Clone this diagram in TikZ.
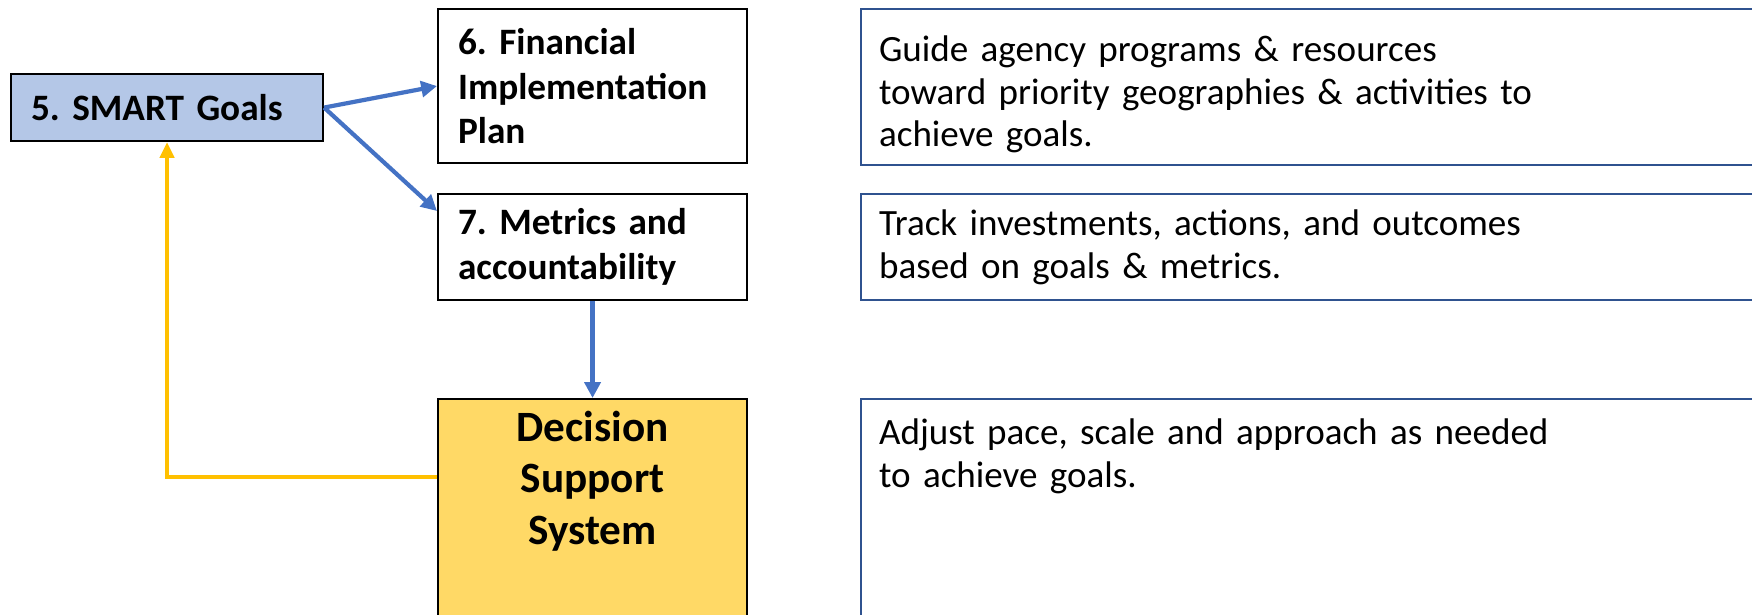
\documentclass[tikz,border=0pt]{standalone}
\usepackage{fontspec}
\setmainfont{Carlito}
\usepackage{xcolor}
\usepackage{tikz}
\usetikzlibrary{positioning, arrows.meta}
\definecolor{smartblue}{HTML}{B4C7E7}
\definecolor{dssgold}{HTML}{FFD966}
\definecolor{arrowblue}{HTML}{4472C4}
\definecolor{loopgold}{HTML}{FFC000}
\definecolor{noteblue}{HTML}{2F528F}
\frenchspacing

\begin{document}
\begin{tikzpicture}[
        stepbox/.style={draw=black, line width=0.6pt, anchor=north west, align=left, inner xsep=0.2cm, text width=2.69cm, font=\fontsize{10.6}{12.8}\selectfont\bfseries},
        notebox/.style={draw=noteblue, line width=0.6pt, anchor=north west, align=left, inner xsep=0.18cm, text width=8.8cm, font=\fontsize{10.55}{12.2}\selectfont},
        flow/.style={arrowblue, line width=1.2pt, -{Triangle[length=4.5pt, width=4.5pt]}},
        feedback/.style={loopgold, line width=1.2pt, -{Triangle[length=4.5pt, width=4pt]}}
    ]
        \useasboundingbox (0,0) rectangle (17.52,-6.14);
        \clip (0,0) rectangle (17.52,-6.14);
        % steps
        \node[stepbox, fill=smartblue, text width=2.72cm, minimum height=0.67cm] (smart) at (0.10,-0.73) {5. SMART Goals};
        \node[stepbox, minimum height=1.54cm] (plan) at (4.37,-0.08) {6. Financial\\Implementation\\Plan};
        \node[stepbox, minimum height=1.06cm] (metrics) at (4.37,-1.93) {7. Metrics and\\accountability};
        \node[stepbox, fill=dssgold, inner ysep=0.12cm, font=\fontsize{12.3}{14.6}\selectfont\bfseries] (dss) at (4.37,-3.98) {\parbox[t][2.3cm][t]{2.69cm}{\centering Decision\\Support\\System}};
        % notes
        \node[notebox, minimum height=1.54cm] (guide) at (8.60,-0.08) {\rule{0pt}{11.5pt}Guide agency programs \& resources\\toward priority geographies \& activities to\\achieve goals.};
        \node[notebox, minimum height=1.06cm] (track) at (8.60,-1.93) {Track investments, actions, and outcomes\\based on goals \& metrics.};
        \node[notebox, inner ysep=0.2cm] (adjust) at (8.60,-3.98) {\parbox[t][2.3cm][t]{8.8cm}{Adjust pace, scale and approach as needed\\to achieve goals.}};
        % arrows
        \draw[flow] (smart.east) -- (plan.west);
        \draw[flow] (smart.east) -- ([yshift=-0.18cm]metrics.north west);
        \draw[flow] (metrics.south) -- (dss.north);
        \draw[feedback] ([yshift=-0.79cm]dss.north west) -| (smart.south);
    \end{tikzpicture}
\end{document}
